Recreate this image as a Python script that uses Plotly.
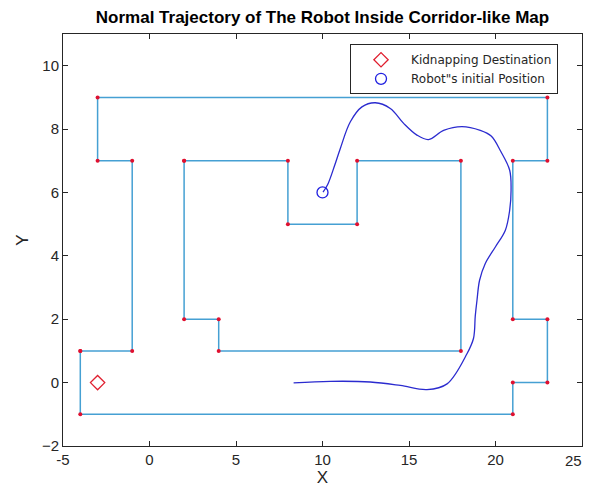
import plotly.graph_objects as go

# Map walls (outer boundary and inner block), vertices marked by red dots
outer_x = [-4, -1, -1, -3, -3, 23, 23, 21, 21, 23, 23, 21, 21, -4, -4]
outer_y = [1, 1, 7, 7, 9, 9, 7, 7, 2, 2, 0, 0, -1, -1, 1]
inner_x = [2, 8, 8, 12, 12, 18, 18, 4, 4, 2, 2]
inner_y = [7, 7, 5, 5, 7, 7, 1, 1, 2, 2, 7]

# Robot trajectory
traj_x = [10.03, 10.3, 10.7, 11.03, 11.61, 12.28, 13.05, 13.92, 14.69, 15.46, 16.13, 17.0,
          18.06, 19.12, 19.75, 20.3, 20.82, 20.9, 20.82, 20.57, 19.99, 19.41, 19.08,
          18.93, 18.83, 18.73, 18.35, 17.2, 16.04, 14.5, 12.76, 10.45, 8.33]
traj_y = [6.01, 6.25, 6.85, 7.39, 8.23, 8.70, 8.83, 8.65, 8.18, 7.81, 7.67, 7.96,
          8.08, 7.96, 7.78, 7.3, 6.70, 6.07, 5.44, 4.81, 4.28, 3.76, 3.23,
          2.60, 2.1, 1.4, 0.91, -0.04, -0.22, -0.09, 0.02, 0.04, -0.01]

kidnap_x = [-3]
kidnap_y = [0]
start_x = [10]
start_y = [6]

x_ticks = [-5, 0, 5, 10, 15, 20, 25]
x_tick_text = ["-5", "0", "5", "10", "15", "20", "25"]
y_ticks = [-2, 0, 2, 4, 6, 8, 10]

wall_color = "#45a0d3"
dot_color = "#e0102f"
ink = "#262626"
FONT = "Arial"

fig = go.Figure()
for wx, wy in [(outer_x, outer_y), (inner_x, inner_y)]:
    fig.add_trace(go.Scatter(x=wx, y=wy, mode="lines+markers",
                             line=dict(color=wall_color, width=1.5),
                             marker=dict(color=dot_color, size=4),
                             showlegend=False, hoverinfo="skip"))

fig.add_trace(go.Scatter(x=traj_x, y=traj_y, mode="lines",
                         line=dict(color="#2b2bcf", width=1.3, shape="spline", smoothing=1.0),
                         showlegend=False))

fig.add_trace(go.Scatter(x=kidnap_x, y=kidnap_y, mode="markers",
                         name="Kidnapping Destination",
                         marker=dict(symbol="diamond-open", color="#e02030", size=11,
                                     line=dict(width=1.3))))
fig.add_trace(go.Scatter(x=start_x, y=start_y, mode="markers",
                         name="Robot\"s initial Position",
                         marker=dict(symbol="circle-open", color="#2020e0", size=11,
                                     line=dict(width=1.3))))

axis_common = dict(showline=True, mirror="ticks", linecolor=ink, linewidth=1,
                   ticks="inside", ticklen=5, tickcolor=ink, showgrid=False,
                   zeroline=False, automargin=False,
                   tickfont=dict(size=15, color=ink, family=FONT))

# last x tick label is drawn as an annotation (slightly shifted left, as in the reference)
fig.update_xaxes(range=[-5, 25], tickvals=x_ticks,
                 ticktext=x_tick_text[:-1] + [""],
                 title=dict(text="X", font=dict(size=17, color=ink, family=FONT), standoff=2),
                 **axis_common)
fig.update_yaxes(range=[-2, 11], tickvals=y_ticks,
                 title=dict(text="Y", font=dict(size=17, color=ink, family=FONT), standoff=8),
                 **axis_common)

fig.add_annotation(x=x_ticks[-1], xref="x", y=0, yref="paper", text=x_tick_text[-1],
                   showarrow=False, xanchor="center", yanchor="top", xshift=-9, yshift=-4,
                   font=dict(size=15, color=ink, family=FONT))

W, H = 587, 482
fig.update_layout(
    width=W, height=H,
    margin=dict(l=55, r=13, t=26, b=44),
    paper_bgcolor="white", plot_bgcolor="white",
    title=dict(text="<b>Normal Trajectory of The Robot Inside Corridor-like Map</b>",
               x=0.5, xref="paper", yref="container", y=1 - 9 / H, yanchor="middle",
               automargin=False,
               font=dict(size=17, color="black", family=FONT)),
    legend=dict(x=0.553, y=0.975, xanchor="left", yanchor="top",
                bgcolor="white", bordercolor=ink, borderwidth=1,
                font=dict(size=12, color=ink, family="DejaVu Sans"),
                itemwidth=50, tracegroupgap=0),
    showlegend=True,
)

fig.write_html("out.html")
